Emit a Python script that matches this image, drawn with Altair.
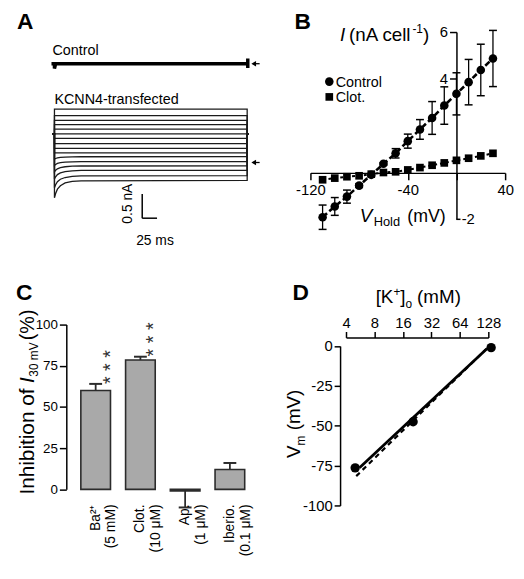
import altair as alt
import pandas as pd

FONT = "Liberation Sans"
OFF = 8
W, H = 514, 563


def px(v):
    return v - OFF


# ---------------- Panel A: current traces ----------------
a_times = [0, 2, 5, 10, 18, 30, 45, 325]
a_traces = [
    [1.10, 1.10, 1.10, 1.10, 1.10, 1.10, 1.10, 1.10],
    [0.97, 0.97, 0.97, 0.97, 0.97, 0.97, 0.97, 0.97],
    [0.87, 0.87, 0.87, 0.87, 0.87, 0.87, 0.87, 0.87],
    [0.78, 0.78, 0.78, 0.78, 0.78, 0.78, 0.78, 0.78],
    [0.69, 0.69, 0.69, 0.69, 0.69, 0.69, 0.69, 0.69],
    [0.59, 0.59, 0.59, 0.59, 0.59, 0.59, 0.59, 0.59],
    [0.50, 0.50, 0.50, 0.50, 0.50, 0.50, 0.50, 0.50],
    [0.39, 0.39, 0.39, 0.39, 0.39, 0.39, 0.39, 0.39],
    [0.29, 0.29, 0.29, 0.29, 0.29, 0.29, 0.29, 0.29],
    [0.20, 0.20, 0.20, 0.20, 0.20, 0.20, 0.20, 0.20],
    [0.07, 0.083, 0.095, 0.105, 0.113, 0.117, 0.119, 0.12],
    [-0.06, -0.04, -0.02, -0.004, 0.008, 0.015, 0.018, 0.02],
    [-0.19, -0.16, -0.13, -0.106, -0.088, -0.077, -0.072, -0.07],
    [-0.34, -0.295, -0.25, -0.215, -0.187, -0.171, -0.164, -0.16],
    [-0.52, -0.46, -0.395, -0.345, -0.31, -0.285, -0.275, -0.27],
    [-0.73, -0.64, -0.55, -0.48, -0.42, -0.39, -0.38, -0.37],
]
a_hold = 0.59
a_pre_t = -3
a_post_t = 328
ctrl_trace_t = [-5, 0, 0, 2, 326, 326, 326]
ctrl_trace_v = [2.04, 2.04, 1.94, 2.04, 2.04, 2.15, 1.95]
a_arrow_t = [336, 336]
a_arrow_v = [2.04, 0.0]
a_arrow_tail_t = 346
a_bar_t = [148, 173]      # 25 ms
a_bar_v = [-1.15, -0.65]  # 0.5 nA

# ---------------- Panel B: I-V relation ----------------
b_v = [-110, -100, -90, -80, -70, -60, -50, -40, -30, -20, -10, 0, 10, 20, 30]
b_ctrl = [-1.91, -1.45, -1.03, -0.56, -0.10, 0.37, 0.82, 1.34, 1.84, 2.33, 2.86, 3.36, 3.86, 4.38, 4.87]
b_ctrl_err = [0.52, 0.38, 0.28, 0.08, 0.05, 0.05, 0.2, 0.3, 0.42, 0.7, 0.8, 0.9, 0.97, 1.1, 1.2]
b_clot = [-0.31, -0.24, -0.18, -0.14, -0.07, 0.0, 0.03, 0.11, 0.21, 0.31, 0.41, 0.52, 0.61, 0.71, 0.82]

# ---------------- Panel C: inhibition ----------------
c_labels = ["Ba\u00b2\u207a\n(5 mM)", "Clot.\n(10 \u03bcM)", "Ap.\n(1 \u03bcM)", "Iberio.\n(0.1 \u03bcM)"]
c_values = [60, 78.5, -1, 12]
c_sem = [4, 2, 10, 4]
c_sig = ["* * *", "* * *", "", ""]

# ---------------- Panel D: Vm vs [K+]o ----------------
d_k = [5.0, 20.5, 137]
d_vm = [-76.4, -47.5, -1]
d_fit_k = [5.56, 122]
d_fit_vm = [-76.4, -2.0]
d_nernst_k = [5.13, 128]
d_nernst_vm = [-81.6, -0.6]

# ---------------- scales ----------------
SC = dict(nice=False, zero=False, padding=0)
AXs = alt.Scale(domain=[0, 325], range=[px(55), px(250)], **SC)
AYs = alt.Scale(domain=[-2, 3.5], range=[px(259), px(-10.5)], **SC)
BXs = alt.Scale(domain=[-120, 40], range=[px(314), px(511)], **SC)
BYs = alt.Scale(domain=[-2, 6], range=[px(218.5), px(29)], **SC)
CXs = alt.Scale(domain=[0, 3], range=[px(96.7), px(232.5)], **SC)
CYs = alt.Scale(domain=[0, 100], range=[px(491.7), px(325)], **SC)
DXs = alt.Scale(type="log", base=2, domain=[4, 128], range=[px(350), px(494)], nice=False, padding=0)
DYs = alt.Scale(domain=[-100, 0], range=[px(508), px(346.7)], **SC)

NEG = "datum.value < 0 ? '-' + abs(datum.value) : '' + datum.value"
NEG_HIDE0 = "datum.value == 0 ? '' : (datum.value < 0 ? '-' + abs(datum.value) : '' + datum.value)"

AX_COMMON = dict(title=None, labelOverlap=False, labelFlush=False, tickWidth=1.5,
                 domainWidth=1.5, labelFont=FONT, labelColor="black",
                 tickColor="black", domainColor="black", grid=False)

bx_axis = alt.Axis(orient="bottom", offset=px(171.5) - H, values=[-120, -40, 0, 40],
                   labelExpr=NEG_HIDE0, tickSize=7, labelFontSize=15, labelPadding=3, **AX_COMMON)
by_axis = alt.Axis(orient="left", offset=-px(461.75), values=[4, 6], labelExpr=NEG,
                   tickSize=7, labelFontSize=15, labelPadding=2, **AX_COMMON)
cy_axis = alt.Axis(orient="left", offset=-px(67), values=[0, 25, 50, 75, 100],
                   tickSize=7, labelFontSize=13.5, labelPadding=2, **AX_COMMON)
dx_axis = alt.Axis(orient="top", offset=-px(338), values=[4, 8, 16, 32, 64, 128], format="d",
                   tickSize=6, labelFontSize=15, labelPadding=1, **AX_COMMON)
dy_axis = alt.Axis(orient="left", offset=-px(344), values=[0, -25, -50, -75, -100], labelExpr=NEG,
                   tickSize=6, labelFontSize=15, labelPadding=2, **AX_COMMON)

# each panel: its scales and the axes shared by all of its layers
PA = dict(xs=AXs, ys=AYs, xa=None, ya=None)
PB = dict(xs=BXs, ys=BYs, xa=bx_axis, ya=by_axis)
PC = dict(xs=CXs, ys=CYs, xa=None, ya=cy_axis)
PD = dict(xs=DXs, ys=DYs, xa=dx_axis, ya=dy_axis)


def enc(P, xf="x", yf="y", **extra):
    return dict(x=alt.X(f"{xf}:Q", scale=P["xs"], axis=P["xa"]),
                y=alt.Y(f"{yf}:Q", scale=P["ys"], axis=P["ya"]), **extra)


def T(P, x, y, s, size=14, align="left", baseline="alphabetic", **kw):
    df = pd.DataFrame({"x": [x], "y": [y], "t": [s]})
    return alt.Chart(df).mark_text(font=FONT, fontSize=size, color="black",
                                   align=align, baseline=baseline, **kw).encode(**enc(P, text="t:N"))


# ================= Panel A =================
rows = []
for k, vals in enumerate(a_traces):
    seq = [(a_pre_t, a_hold), (0, a_hold)] + list(zip(a_times, vals)) + \
          [(a_times[-1], a_hold), (a_post_t, a_hold)]
    for j, (t, v) in enumerate(seq):
        rows.append({"trace": k, "ord": j, "x": t, "y": v})
df_tr = pd.DataFrame(rows)

A_tr = alt.Chart(df_tr).mark_line(color="#1b1b1b", strokeWidth=1.3).encode(
    **enc(PA, detail="trace:N", order="ord:Q"))
df_ctrl = pd.DataFrame({"x": ctrl_trace_t, "y": ctrl_trace_v, "ord": list(range(len(ctrl_trace_t)))})
A_ctrl = alt.Chart(df_ctrl).mark_line(color="black", strokeWidth=3.5).encode(**enc(PA, order="ord:Q"))
df_arr = pd.DataFrame({"x": a_arrow_t, "x2": [a_arrow_tail_t] * len(a_arrow_t), "y": a_arrow_v})
A_arr_rule = alt.Chart(df_arr).mark_rule(color="black", strokeWidth=1.3).encode(
    **enc(PA, x2=alt.X2("x2")))
A_arr_head = alt.Chart(df_arr).mark_point(shape="triangle-left", filled=True, size=30,
                                          color="black", opacity=1).encode(**enc(PA))
df_sbv = pd.DataFrame({"x": [a_bar_t[0]], "y": [a_bar_v[0]], "y2": [a_bar_v[1]]})
df_sbh = pd.DataFrame({"x": [a_bar_t[0]], "x2": [a_bar_t[1]], "y": [a_bar_v[0]]})
A_sbv = alt.Chart(df_sbv).mark_rule(color="black", strokeWidth=1.5).encode(**enc(PA, y2=alt.Y2("y2")))
A_sbh = alt.Chart(df_sbh).mark_rule(color="black", strokeWidth=1.5).encode(**enc(PA, x2=alt.X2("x2")))

panelA = alt.layer(
    A_tr, A_ctrl, A_arr_rule, A_arr_head, A_sbv, A_sbh,
    T(PA, -63.3, 2.755, "A", size=23, fontWeight="bold"),
    T(PA, -3.3, 2.22, "Control", size=14.5),
    T(PA, 0, 1.21, "KCNN4-transfected", size=14.5),
    T(PA, 123.5, -0.85, "0.5 nA", size=14, align="center", baseline="middle", angle=270),
    T(PA, 169.5, -1.71, "25 ms", size=14, align="center"),
)

# ================= Panel B =================
df_b = pd.DataFrame({"x": b_v, "ctrl": b_ctrl, "clot": b_clot,
                     "lo": [c - e for c, e in zip(b_ctrl, b_ctrl_err)],
                     "hi": [c + e for c, e in zip(b_ctrl, b_ctrl_err)]})
df_caps = pd.DataFrame({"x": b_v + b_v, "y": list(df_b["lo"]) + list(df_b["hi"])})

B_ctrl_line = alt.Chart(df_b).mark_line(color="black", strokeWidth=2.6, strokeDash=[6, 3]).encode(
    **enc(PB, yf="ctrl"))
B_clot_line = alt.Chart(df_b).mark_line(color="black", strokeWidth=2, strokeDash=[3, 3]).encode(
    **enc(PB, yf="clot"))
B_err = alt.Chart(df_b).mark_rule(color="black", strokeWidth=1.3).encode(
    **enc(PB, yf="lo", y2=alt.Y2("hi")))
B_caps = alt.Chart(df_caps).mark_tick(orient="horizontal", size=8, thickness=1.5, color="black",
                                      opacity=1).encode(**enc(PB))
B_ctrl_pts = alt.Chart(df_b).mark_point(shape="circle", filled=True, size=75, color="black",
                                        opacity=1).encode(**enc(PB, yf="ctrl"))
B_clot_pts = alt.Chart(df_b).mark_point(shape="square", filled=True, size=60, color="black",
                                        opacity=1).encode(**enc(PB, yf="clot"))
df_leg_c = pd.DataFrame({"x": [-104.5], "y": [3.883]})
df_leg_s = pd.DataFrame({"x": [-104.5], "y": [3.229]})
B_leg_c = alt.Chart(df_leg_c).mark_point(shape="circle", filled=True, size=75, color="black",
                                         opacity=1).encode(**enc(PB))
B_leg_s = alt.Chart(df_leg_s).mark_point(shape="square", filled=True, size=60, color="black",
                                         opacity=1).encode(**enc(PB))
df_m2 = pd.DataFrame({"x": [0], "x2": [3.3], "y": [-2]})
B_m2 = alt.Chart(df_m2).mark_rule(color="black", strokeWidth=1.5).encode(**enc(PB, x2=alt.X2("x2")))

panelB = alt.layer(
    B_ctrl_line, B_clot_line, B_err, B_caps, B_ctrl_pts, B_clot_pts, B_leg_c, B_leg_s, B_m2,
    T(PB, -133, 6.14, "B", size=23, fontWeight="bold"),
    T(PB, -95.6, 5.635, "I", size=19, fontStyle="italic"),
    T(PB, -88.3, 5.635, "(nA cell", size=19),
    T(PB, -36.2, 5.97, "-1", size=12),
    T(PB, -27.4, 5.635, ")", size=19),
    T(PB, -99.2, 3.672, "Control", size=14.5),
    T(PB, -99.2, 3.018, "Clot.", size=14.5),
    T(PB, -79.4, -2.13, "V", size=19, fontStyle="italic"),
    T(PB, -68.0, -2.30, "Hold", size=13),
    T(PB, -40.4, -2.13, "(mV)", size=18),
    T(PB, 4.3, -2, "-2", size=15, baseline="middle"),
)

# ================= Panel C =================
c_end = [v + s if v >= 0 else v - s for v, s in zip(c_values, c_sem)]
df_c = pd.DataFrame({"x": list(range(len(c_values))), "y": c_values, "base": [0] * len(c_values),
                     "end": c_end})

C_bars = alt.Chart(df_c).mark_bar(size=30, color="#a9a9a9", stroke="#2b2b2b", strokeWidth=1.6).encode(
    **enc(PC, y2=alt.Y2("base")))
C_err = alt.Chart(df_c).mark_rule(color="#2b2b2b", strokeWidth=1.8).encode(
    **enc(PC, y2=alt.Y2("end")))
C_caps = alt.Chart(df_c).mark_tick(orient="horizontal", size=13, thickness=2, color="#2b2b2b",
                                   opacity=1).encode(**enc(PC, yf="end"))
df_lab = pd.DataFrame({"x": list(range(len(c_labels))), "y": [-9.2] * len(c_labels), "t": c_labels})
C_labs = alt.Chart(df_lab).mark_text(font=FONT, fontSize=14, color="black", angle=270, align="right",
                                     baseline="middle", lineBreak="\n").encode(**enc(PC, text="t:N"))
df_sig = pd.DataFrame({"x": [0.34, 1.3], "y": [74.2, 91], "t": c_sig[:2]})
C_sig = alt.Chart(df_sig).mark_text(font=FONT, fontSize=20, color="#333333", angle=270, align="center",
                                    baseline="middle").encode(**enc(PC, text="t:N"))

panelC = alt.layer(
    C_bars, C_err, C_caps, C_labs, C_sig,
    T(PC, -1.78, 115, "C", size=23, fontWeight="bold"),
    T(PC, -1.37, -3.2, "Inhibition of", size=21, angle=270),
    T(PC, -1.37, 64.6, "I", size=21, angle=270, fontStyle="italic"),
    T(PC, -1.282, 68.4, "30 mV", size=12, angle=270),
    T(PC, -1.37, 90.5, "(%)", size=20, angle=270),
)

# ================= Panel D =================
df_d = pd.DataFrame({"x": d_k, "y": d_vm})
df_fit = pd.DataFrame({"x": d_fit_k, "y": d_fit_vm})
df_ner = pd.DataFrame({"x": d_nernst_k, "y": d_nernst_vm})

D_ner = alt.Chart(df_ner).mark_line(color="black", strokeWidth=2.2, strokeDash=[5, 4]).encode(**enc(PD))
D_fit = alt.Chart(df_fit).mark_line(color="black", strokeWidth=2.8).encode(**enc(PD))
D_pts = alt.Chart(df_d).mark_point(shape="circle", filled=True, size=90, color="black",
                                   opacity=1).encode(**enc(PD))

panelD = alt.layer(
    D_ner, D_fit, D_pts,
    T(PD, 1.09, 28.95, "D", size=23, fontWeight="bold"),
    T(PD, 8.23, 27.1, "[K", size=19),
    T(PD, 12.7, 31.4, "+", size=12),
    T(PD, 15.03, 27.1, "]", size=19),
    T(PD, 17.07, 24.0, "o", size=12),
    T(PD, 22.6, 27.1, "(mM)", size=19),
    T(PD, 1.32, -70.2, "V", size=19, angle=270),
    T(PD, 1.456, -62.4, "m", size=12, angle=270),
    T(PD, 1.32, -52.9, "(mV)", size=19, angle=270),
)

chart = alt.layer(panelA, panelB, panelC, panelD).resolve_scale(
    x="independent", y="independent"
).properties(
    width=W, height=H, padding=0, autosize=alt.AutoSizeParams(type="none")
).configure_view(stroke=None).configure_axis(grid=False)

chart.save("out.html", embed_options={"renderer": "svg", "actions": False})
